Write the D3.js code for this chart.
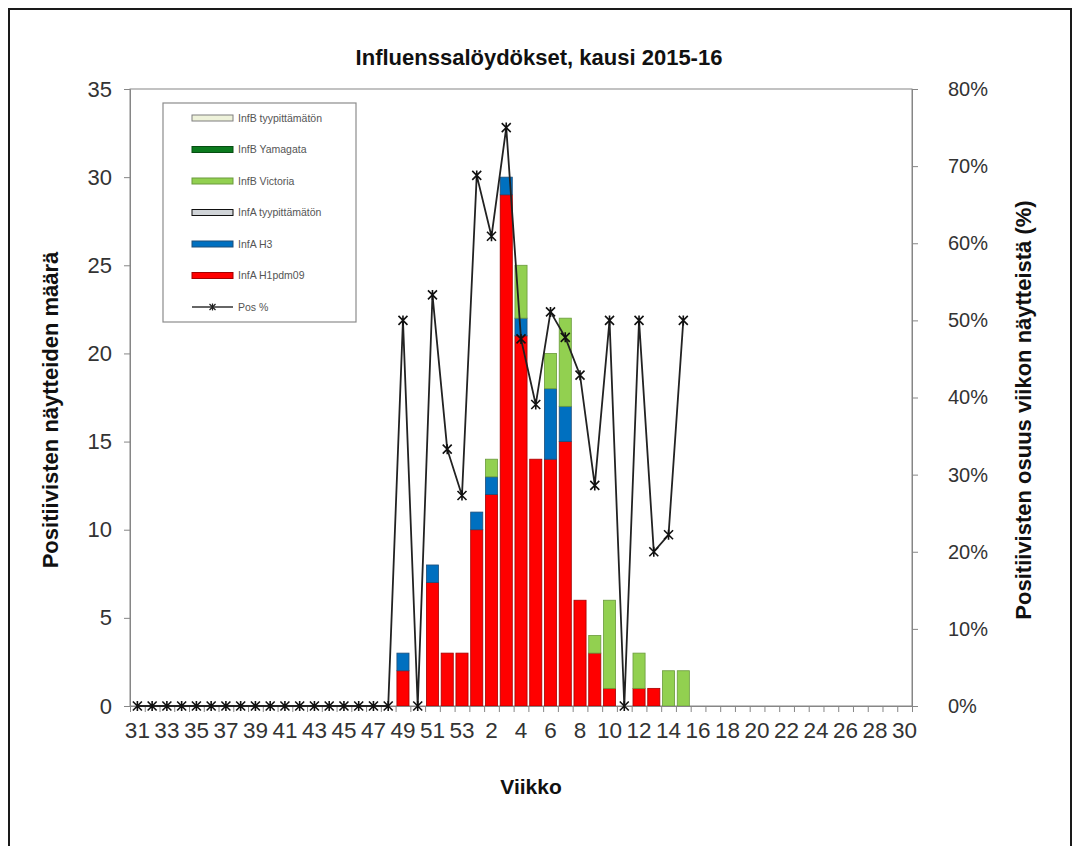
<!DOCTYPE html>
<html>
<head>
<meta charset="utf-8">
<script src="https://cdn.jsdelivr.net/npm/d3@7/dist/d3.min.js"></script>
<style>
  body { margin: 0; background: #fff; }
  svg text { font-family: 'Liberation Sans', Arial, sans-serif; }
</style>
</head>
<body>
<div id="chart"></div>
<script>
(function() {
  'use strict';

  // viikot 31..53 ja 1..30
  var weeks = ['31', '32', '33', '34', '35', '36', '37', '38', '39', '40', '41', '42',
    '43', '44', '45', '46', '47', '48', '49', '50', '51', '52', '53',
    '1', '2', '3', '4', '5', '6', '7', '8', '9', '10', '11', '12', '13', '14', '15',
    '16', '17', '18', '19', '20', '21', '22', '23', '24', '25', '26', '27', '28', '29', '30'];

  var infAH1 = [0, 0, 0, 0, 0, 0, 0, 0, 0, 0, 0, 0, 0, 0, 0, 0, 0, 0,
    2, 0, 7, 3, 3, 10, 12, 29, 21, 14, 14, 15, 6, 3, 1, 0, 1, 1, 0, 0,
    0, 0, 0, 0, 0, 0, 0, 0, 0, 0, 0, 0, 0, 0, 0];
  var infAH3 = [0, 0, 0, 0, 0, 0, 0, 0, 0, 0, 0, 0, 0, 0, 0, 0, 0, 0,
    1, 0, 1, 0, 0, 1, 1, 1, 1, 0, 4, 2, 0, 0, 0, 0, 0, 0, 0, 0,
    0, 0, 0, 0, 0, 0, 0, 0, 0, 0, 0, 0, 0, 0, 0];
  var infAUntyped = [0, 0, 0, 0, 0, 0, 0, 0, 0, 0, 0, 0, 0, 0, 0, 0, 0, 0,
    0, 0, 0, 0, 0, 0, 0, 0, 0, 0, 0, 0, 0, 0, 0, 0, 0, 0, 0, 0,
    0, 0, 0, 0, 0, 0, 0, 0, 0, 0, 0, 0, 0, 0, 0];
  var infBVictoria = [0, 0, 0, 0, 0, 0, 0, 0, 0, 0, 0, 0, 0, 0, 0, 0, 0, 0,
    0, 0, 0, 0, 0, 0, 1, 0, 3, 0, 2, 5, 0, 1, 5, 0, 2, 0, 2, 2,
    0, 0, 0, 0, 0, 0, 0, 0, 0, 0, 0, 0, 0, 0, 0];
  var infBYamagata = [0, 0, 0, 0, 0, 0, 0, 0, 0, 0, 0, 0, 0, 0, 0, 0, 0, 0,
    0, 0, 0, 0, 0, 0, 0, 0, 0, 0, 0, 0, 0, 0, 0, 0, 0, 0, 0, 0,
    0, 0, 0, 0, 0, 0, 0, 0, 0, 0, 0, 0, 0, 0, 0];
  var infBUntyped = [0, 0, 0, 0, 0, 0, 0, 0, 0, 0, 0, 0, 0, 0, 0, 0, 0, 0,
    0, 0, 0, 0, 0, 0, 0, 0, 0, 0, 0, 0, 0, 0, 0, 0, 0, 0, 0, 0,
    0, 0, 0, 0, 0, 0, 0, 0, 0, 0, 0, 0, 0, 0, 0];
  // positiivisten osuus (%), null = ei tietoa
  var posPct = [0, 0, 0, 0, 0, 0, 0, 0, 0, 0, 0, 0, 0, 0, 0, 0, 0, 0,
    50, 0, 53.3, 33.3, 27.3, 68.8, 60.9, 75, 47.6, 39.1, 51.1, 47.8, 42.9, 28.6, 50, 0, 50, 20, 22.2, 50,
    null, null, null, null, null, null, null, null, null, null, null, null, null, null, null];

  var countTicks = [0, 5, 10, 15, 20, 25, 30, 35];
  var pctTicks = [0, 10, 20, 30, 40, 50, 60, 70, 80];

  var series = [
    { key: 'h1', name: 'InfA H1pdm09', values: infAH1, fill: '#ff0000', stroke: '#a50000' },
    { key: 'h3', name: 'InfA H3', values: infAH3, fill: '#0070c0', stroke: '#1f4e79' },
    { key: 'aut', name: 'InfA tyypittämätön', values: infAUntyped, fill: '#d0d4d8', stroke: '#111' },
    { key: 'vic', name: 'InfB Victoria', values: infBVictoria, fill: '#92d050', stroke: '#6a9a3c' },
    { key: 'yam', name: 'InfB Yamagata', values: infBYamagata, fill: '#0b7a1e', stroke: '#064d12' },
    { key: 'but', name: 'InfB tyypittämätön', values: infBUntyped, fill: '#eef2da', stroke: '#7f7f7f' }
  ];

  const W = 1077;
  const H = 846;
  const PLOT = { LEFT: 130, RIGHT: 912, TOP: 89, BOTTOM: 706 };
  const AXIS_COLOR = '#868686';
  const LABEL_COLOR = '#333';

  var table = weeks.map(function(w, i) {
    var row = { week: w };
    series.forEach(function(s) { row[s.key] = s.values[i]; });
    return row;
  });

  var x = d3.scaleBand()
    .domain(weeks)
    .range([PLOT.LEFT, PLOT.RIGHT])
    .paddingInner(0.18)
    .paddingOuter(0.09);

  var xEdge = d3.scaleLinear()
    .domain([0, weeks.length])
    .range([PLOT.LEFT, PLOT.RIGHT]);

  var y = d3.scaleLinear()
    .domain([0, 35])
    .range([PLOT.BOTTOM, PLOT.TOP]);

  var y2 = d3.scaleLinear()
    .domain([0, 80])
    .range([PLOT.BOTTOM, PLOT.TOP]);

  var svg = d3.select('#chart').append('svg')
    .attr('width', W)
    .attr('height', H);

  svg.append('rect')
    .attr('width', W)
    .attr('height', H)
    .attr('fill', '#fff');

  // ulkoreunus
  svg.append('rect')
    .attr('x', 9)
    .attr('y', 9)
    .attr('width', 1062)
    .attr('height', 880)
    .attr('fill', 'none')
    .attr('stroke', '#1a1a1a')
    .attr('stroke-width', 2);

  svg.append('text')
    .attr('x', 539)
    .attr('y', 65)
    .attr('text-anchor', 'middle')
    .style('font-size', '22px')
    .style('font-weight', 'bold')
    .style('fill', '#111')
    .text('Influenssalöydökset, kausi 2015-16');

  // plot area frame
  svg.append('rect')
    .attr('x', PLOT.LEFT)
    .attr('y', PLOT.TOP)
    .attr('width', PLOT.RIGHT - PLOT.LEFT)
    .attr('height', PLOT.BOTTOM - PLOT.TOP)
    .attr('fill', 'none')
    .attr('stroke', AXIS_COLOR)
    .attr('stroke-width', 1);

  // bars
  var stacked = d3.stack().keys(series.map(function(s) { return s.key; }))(table);

  svg.append('g')
    .selectAll('g')
    .data(stacked)
    .enter().append('g')
    .attr('fill', function(d, i) { return series[i].fill; })
    .attr('stroke', function(d, i) { return series[i].stroke; })
    .attr('stroke-width', 0.8)
    .selectAll('rect')
    .data(function(d) { return d.filter(function(p) { return p[1] - p[0] > 0; }); })
    .enter().append('rect')
    .attr('x', function(d) { return x(d.data.week); })
    .attr('width', x.bandwidth())
    .attr('y', function(d) { return y(d[1]); })
    .attr('height', function(d) { return y(d[0]) - y(d[1]); });

  // axes
  var leftAxis = svg.append('g')
    .attr('transform', 'translate(' + PLOT.LEFT + ',0)')
    .call(d3.axisLeft(y).tickValues(countTicks).tickSize(6).tickPadding(12));

  var rightAxis = svg.append('g')
    .attr('transform', 'translate(' + PLOT.RIGHT + ',0)')
    .call(d3.axisRight(y2).tickValues(pctTicks).tickSize(6).tickPadding(30)
      .tickFormat(function(d) { return d + '%'; }));

  var bottomTicks = svg.append('g')
    .attr('transform', 'translate(0,' + PLOT.BOTTOM + ')')
    .call(d3.axisBottom(xEdge).tickValues(d3.range(0, weeks.length + 1)).tickSize(6).tickFormat(''));

  var bottomLabels = svg.append('g')
    .attr('transform', 'translate(0,' + PLOT.BOTTOM + ')')
    .call(d3.axisBottom(x)
      .tickValues(weeks.filter(function(d, i) { return i % 2 === 0; }))
      .tickSize(0).tickPadding(16));

  [leftAxis, rightAxis, bottomTicks, bottomLabels].forEach(function(g) {
    g.select('.domain').attr('stroke', AXIS_COLOR);
    g.selectAll('.tick line').attr('stroke', AXIS_COLOR);
    g.selectAll('.tick text')
      .style('font-size', '21px')
      .style('fill', LABEL_COLOR)
      .style('font-family', "'Liberation Sans', Arial, sans-serif");
  });
  bottomLabels.select('.domain').remove();
  bottomLabels.selectAll('.tick text').style('font-size', '22.5px');
  leftAxis.selectAll('.tick text').style('font-size', '22px');
  rightAxis.selectAll('.tick text').style('font-size', '20px');

  // axis titles
  svg.append('text')
    .attr('transform', 'translate(58,410) rotate(-90)')
    .attr('text-anchor', 'middle')
    .style('font-size', '22px')
    .style('font-weight', 'bold')
    .style('fill', '#111')
    .text('Positiivisten näytteiden määrä');

  svg.append('text')
    .attr('transform', 'translate(1031,410) rotate(-90)')
    .attr('text-anchor', 'middle')
    .style('font-size', '22px')
    .style('font-weight', 'bold')
    .style('fill', '#111')
    .text('Positiivisten osuus viikon näytteistä (%)');

  svg.append('text')
    .attr('x', 531)
    .attr('y', 794)
    .attr('text-anchor', 'middle')
    .style('font-size', '21px')
    .style('font-weight', 'bold')
    .style('fill', '#111')
    .text('Viikko');

  // Pos % line
  var pts = weeks.map(function(w, i) { return { week: w, v: posPct[i] }; })
    .filter(function(d) { return d.v !== null; });

  var line = d3.line()
    .x(function(d) { return x(d.week) + x.bandwidth() / 2; })
    .y(function(d) { return y2(d.v); });

  svg.append('path')
    .datum(pts)
    .attr('d', line)
    .attr('fill', 'none')
    .attr('stroke', '#222')
    .attr('stroke-width', 1.8);

  var STAR = 'M-4.5,-4.5L4.5,4.5M-4.5,4.5L4.5,-4.5M0,-5L0,5';

  svg.append('g')
    .selectAll('path')
    .data(pts)
    .enter().append('path')
    .attr('transform', function(d) {
      return 'translate(' + (x(d.week) + x.bandwidth() / 2) + ',' + y2(d.v) + ')';
    })
    .attr('d', STAR)
    .attr('fill', 'none')
    .attr('stroke', '#111')
    .attr('stroke-width', 1.6);

  // legend
  var legend = svg.append('g');
  legend.append('rect')
    .attr('x', 163)
    .attr('y', 103)
    .attr('width', 193)
    .attr('height', 219)
    .attr('fill', '#fff')
    .attr('stroke', '#8c8c8c')
    .attr('stroke-width', 1.2);

  var legendItems = series.slice().reverse();
  legendItems.forEach(function(s, i) {
    var cy = 118 + i * 31.5;
    legend.append('rect')
      .attr('x', 192)
      .attr('y', cy - 3)
      .attr('width', 41)
      .attr('height', 6)
      .attr('fill', s.fill)
      .attr('stroke', s.stroke)
      .attr('stroke-width', 1);
    legend.append('text')
      .attr('x', 238)
      .attr('y', cy + 3.5)
      .style('font-size', '10.5px')
      .style('fill', '#555')
      .text(s.name);
  });

  var posY = 118 + 6 * 31.5;
  legend.append('line')
    .attr('x1', 192).attr('x2', 233)
    .attr('y1', posY).attr('y2', posY)
    .attr('stroke', '#333')
    .attr('stroke-width', 1.5);
  legend.append('path')
    .attr('transform', 'translate(212.5,' + posY + ')')
    .attr('d', 'M-3,-3L3,3M-3,3L3,-3M0,-3.5L0,3.5')
    .attr('fill', 'none')
    .attr('stroke', '#222')
    .attr('stroke-width', 1.2);
  legend.append('text')
    .attr('x', 238)
    .attr('y', posY + 3.5)
    .style('font-size', '10.5px')
    .style('fill', '#555')
    .text('Pos %');
}());
</script>
</body>
</html>
